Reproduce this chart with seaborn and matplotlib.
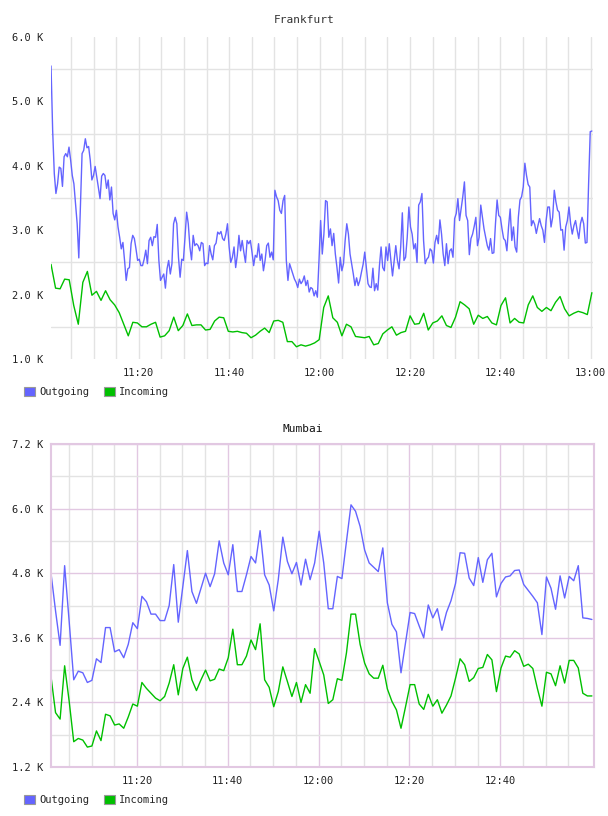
import numpy as np
import pandas as pd
import matplotlib
matplotlib.use("Agg")
import matplotlib.pyplot as plt
import seaborn as sns
from matplotlib.patches import Patch
from matplotlib.ticker import FixedLocator

# ---------------- data (values in thousands) ----------------
series_names = ["Outgoing", "Incoming"]
series_colors = {"Outgoing": "#6464ff", "Incoming": "#00c000"}

# time span of samples, minutes after 11:00
fra_span = (0.58, 120.25)
mum_span = (1.06, 120.2)

fra_outgoing = [
    5.55, 4.55, 3.88, 3.57, 3.72, 3.98, 3.96, 3.68, 4.14, 4.19,
    4.14, 4.29, 4.09, 3.85, 3.72, 3.41, 3.10, 2.57, 3.36, 4.19,
    4.24, 4.42, 4.28, 4.30, 4.09, 3.78, 3.85, 3.99, 3.83, 3.66,
    3.49, 3.84, 3.88, 3.85, 3.65, 3.78, 3.47, 3.67, 3.26, 3.16,
    3.31, 3.05, 2.89, 2.71, 2.81, 2.53, 2.22, 2.40, 2.42, 2.79,
    2.92, 2.87, 2.71, 2.53, 2.55, 2.45, 2.45, 2.55, 2.69, 2.48,
    2.84, 2.89, 2.76, 2.90, 2.89, 3.09, 2.53, 2.22, 2.27, 2.32,
    2.10, 2.40, 2.53, 2.32, 2.48, 3.10, 3.20, 3.10, 2.58, 2.27,
    2.55, 2.53,
    2.89, 3.28, 3.10, 2.74, 2.54, 2.92, 2.76, 2.79, 2.76, 2.68,
    2.81, 2.79, 2.45, 2.49, 2.48, 2.76, 2.63, 2.54, 2.76, 2.80,
    2.97, 2.94, 2.98, 2.87, 2.84, 2.94, 3.10, 2.74, 2.50, 2.58,
    2.74, 2.42, 2.61, 2.92, 2.68, 2.84, 2.66, 2.50, 2.84, 2.79,
    2.84, 2.66, 2.45, 2.61, 2.58, 2.79, 2.53, 2.63, 2.37, 2.53,
    2.76, 2.80, 2.58, 2.66, 2.54, 3.62, 3.52, 3.46, 3.31, 3.26,
    3.46, 3.54, 2.53, 2.22, 2.48, 2.40, 2.32, 2.24, 2.19, 2.11,
    2.24, 2.17, 2.21, 2.29, 2.14, 2.22, 2.04, 2.11, 2.09, 1.98,
    2.06,
    1.96, 2.53, 3.15, 2.63, 2.94, 3.46, 3.44, 2.89,
    3.02, 2.76, 2.95, 2.63, 2.42, 2.18, 2.58, 2.37, 2.48, 2.84,
    3.10, 2.94, 2.63, 2.48, 2.32, 2.14, 2.26, 2.14, 2.22,
    2.35, 2.47, 2.66, 2.42, 2.17, 2.12, 2.11, 2.41, 2.06, 2.17,
    2.07, 2.45, 2.74, 2.42, 2.37, 2.74, 2.53, 2.79, 2.53,
    2.29, 2.53, 2.76, 2.53, 2.40, 2.74, 3.27, 2.53, 2.58, 2.89,
    3.36, 3.05, 2.94, 2.71, 2.79, 2.50, 3.39, 3.44, 3.57,
    2.84, 2.48, 2.55, 2.58, 2.71, 2.68, 2.49, 2.81, 2.92,
    2.79, 3.16, 2.94, 2.63, 2.45, 2.79, 2.48, 2.68, 2.71, 2.58,
    3.18, 3.26, 3.49, 3.15, 3.33, 3.52, 3.75, 3.23, 3.15,
    2.62, 2.87, 2.94, 3.06, 3.20, 2.76, 2.89, 3.39, 3.20,
    3.02, 2.89, 2.76, 2.69, 2.87, 2.64, 2.65, 3.10, 3.47,
    3.23, 3.20, 3.02, 2.87, 2.84, 2.68, 3.05, 3.33, 2.84, 3.05,
    2.74, 2.66, 3.20, 3.47, 3.52, 3.67, 4.04, 3.85, 3.71, 3.67,
    3.07, 3.15, 3.09, 2.95, 3.07, 3.18, 3.07, 3.00, 2.81,
    3.15, 3.36, 3.36, 3.05, 3.20, 3.62, 3.44, 3.31, 3.28, 3.00,
    3.01, 2.69, 3.05, 3.15, 3.36, 3.10, 2.94, 3.07, 3.15, 3.00,
    2.87, 3.10, 3.20, 3.10, 2.80, 2.81, 3.72, 4.53, 4.54,
]

fra_incoming = [
    2.47, 2.10, 2.09, 2.24, 2.23, 1.83, 1.54, 2.19, 2.36, 1.99,
    2.05, 1.91, 2.06, 1.92, 1.84, 1.72, 1.54, 1.36, 1.57, 1.56,
    1.50, 1.50, 1.54, 1.57, 1.34, 1.36, 1.44, 1.65, 1.44, 1.52,
    1.70, 1.52, 1.53, 1.53, 1.45, 1.46, 1.59, 1.65, 1.64, 1.43,
    1.42, 1.43, 1.41, 1.40, 1.33, 1.37, 1.43, 1.48, 1.41, 1.59,
    1.60, 1.57, 1.27, 1.27, 1.19, 1.22, 1.20, 1.22, 1.25, 1.30,
    1.80, 1.98, 1.64, 1.57, 1.36, 1.54, 1.50, 1.35, 1.34, 1.33,
    1.35, 1.22, 1.24, 1.39, 1.45, 1.50, 1.37, 1.41, 1.43, 1.67,
    1.54, 1.55, 1.71, 1.45, 1.56, 1.59, 1.67, 1.52, 1.49, 1.65,
    1.89, 1.84, 1.78, 1.54, 1.68, 1.63, 1.66, 1.56, 1.53, 1.83,
    1.95, 1.56, 1.63, 1.57, 1.56, 1.84, 1.98, 1.80, 1.74, 1.80,
    1.75, 1.88, 1.97, 1.78, 1.67, 1.71, 1.74, 1.72, 1.69, 2.03,
]

mum_outgoing = [
    4.80, 4.10, 3.46, 4.94, 3.90, 2.82, 2.98, 2.95, 2.77, 2.81,
    3.21, 3.14, 3.79, 3.79, 3.34, 3.38, 3.23, 3.48, 3.88, 3.77,
    4.37, 4.27, 4.04, 4.04, 3.92, 3.92, 4.20, 4.96, 3.89, 4.55,
    5.22, 4.46, 4.24, 4.52, 4.80, 4.55, 4.79, 5.40, 4.99, 4.77,
    5.33, 4.46, 4.46, 4.77, 5.11, 4.99, 5.59, 4.77, 4.58, 4.10,
    4.68, 5.47, 5.02, 4.79, 5.00, 4.58, 5.06, 4.68, 4.99, 5.58,
    4.99, 4.14, 4.14, 4.74, 4.70, 5.39, 6.07, 5.95, 5.67, 5.23,
    4.99, 4.91, 4.83, 5.27, 4.25, 3.85, 3.71, 2.95, 3.51, 4.07,
    4.05, 3.82, 3.60, 4.21, 3.97, 4.14, 3.74, 4.07, 4.29, 4.61,
    5.18, 5.17, 4.71, 4.57, 5.09, 4.63, 5.05, 5.17, 4.36, 4.61,
    4.73, 4.75, 4.85, 4.86, 4.59, 4.48, 4.37, 4.25, 3.66, 4.73,
    4.52, 4.13, 4.75, 4.34, 4.74, 4.66, 4.94, 3.97, 3.96, 3.94,
]

mum_incoming = [
    2.88, 2.21, 2.09, 3.08, 2.42, 1.67, 1.73, 1.70, 1.57, 1.59,
    1.87, 1.69, 2.18, 2.15, 1.98, 2.00, 1.92, 2.13, 2.37, 2.33,
    2.77, 2.66, 2.57, 2.48, 2.43, 2.51, 2.76, 3.10, 2.54, 3.03,
    3.24, 2.82, 2.62, 2.82, 3.00, 2.80, 2.83, 3.02, 2.99, 3.23,
    3.76, 3.10, 3.10, 3.26, 3.56, 3.38, 3.86, 2.82, 2.68, 2.32,
    2.60, 3.06, 2.79, 2.51, 2.77, 2.40, 2.73, 2.57, 3.40, 3.16,
    2.91, 2.38, 2.45, 2.84, 2.81, 3.32, 4.04, 4.04, 3.48, 3.13,
    2.93, 2.85, 2.85, 3.09, 2.65, 2.42, 2.26, 1.92, 2.32, 2.73,
    2.73, 2.37, 2.27, 2.55, 2.33, 2.45, 2.20, 2.35, 2.52, 2.85,
    3.21, 3.10, 2.79, 2.86, 3.03, 3.05, 3.29, 3.19, 2.60, 3.04,
    3.26, 3.24, 3.36, 3.30, 3.07, 3.11, 3.03, 2.66, 2.33, 2.96,
    2.93, 2.71, 3.08, 2.76, 3.18, 3.18, 3.04, 2.57, 2.52, 2.52,
]

xtick_minutes = [20, 40, 60, 80, 100, 120]
xtick_labels = ["11:20", "11:40", "12:00", "12:20", "12:40", "13:00"]
fra_yticks = [1.0, 2.0, 3.0, 4.0, 5.0, 6.0]
mum_yticks = [1.2, 2.4, 3.6, 4.8, 6.0, 7.2]


def long_frame(span, outgoing, incoming):
    parts = []
    for name, vals in zip(series_names, [outgoing, incoming]):
        parts.append(pd.DataFrame({
            "t": np.linspace(span[0], span[1], len(vals)),
            "v": vals,
            "series": name,
        }))
    return pd.concat(parts, ignore_index=True)


sns.set_style("white")
plt.rcParams["font.family"] = ["DejaVu Sans Mono", "DejaVu Sans"]

W, H = 608, 816
fig = plt.figure(figsize=(W / 100, H / 100), dpi=100)


def fx(px):
    return px / W


def fy(py):
    return 1 - py / H


ax1 = fig.add_axes([fx(51), fy(359), fx(593) - fx(51), fy(37) - fy(359)])
ax2 = fig.add_axes([fx(51), fy(767), fx(594) - fx(51), fy(444) - fy(767)])

grey = "#e3e3e3"
pink = "#e2c8e2"
tick_color = "#222222"
fsize = 7.5

for ax, span, out, inc in [(ax1, fra_span, fra_outgoing, fra_incoming),
                           (ax2, mum_span, mum_outgoing, mum_incoming)]:
    df = long_frame(span, out, inc)
    sns.lineplot(data=df, x="t", y="v", hue="series", hue_order=series_names,
                 palette=series_colors, legend=False, ax=ax, linewidth=1.0,
                 estimator=None, sort=False)
    ax.set_xlabel("")
    ax.set_ylabel("")
    ax.set_axisbelow(True)
    ax.tick_params(which="both", length=0, labelsize=fsize, colors=tick_color)
    ax.tick_params(axis="y", pad=5.5)
    ax.tick_params(axis="x", pad=6.5)

# --- Frankfurt ---
ax1.set_xlim(0.575, 120.5)
ax1.set_ylim(fra_yticks[0], fra_yticks[-1])
ax1.set_xticks(xtick_minutes)
ax1.set_xticklabels(xtick_labels)
ax1.xaxis.set_minor_locator(FixedLocator([m for m in range(5, 121, 5) if m % 20]))
ax1.set_yticks(fra_yticks)
ax1.set_yticklabels([f"{v:.1f} K" for v in fra_yticks])
ax1.yaxis.set_minor_locator(FixedLocator([v + 0.5 for v in fra_yticks[:-1]]))
ax1.grid(which="minor", color=grey, linewidth=1.0)
ax1.grid(which="major", axis="x", color=grey, linewidth=1.0)
ax1.grid(which="major", axis="y", visible=False)
for s in ax1.spines.values():
    s.set_visible(False)

# --- Mumbai ---
ax2.set_xlim(1.06, 120.66)
ax2.set_ylim(mum_yticks[0], mum_yticks[-1])
ax2.set_xticks(xtick_minutes[:-1])
ax2.set_xticklabels(xtick_labels[:-1])
ax2.xaxis.set_minor_locator(FixedLocator([m for m in range(5, 116, 5) if m % 20]))
ax2.set_yticks(mum_yticks)
ax2.set_yticklabels([f"{v:.1f} K" for v in mum_yticks])
ax2.yaxis.set_minor_locator(FixedLocator([v + 0.6 for v in mum_yticks[:-1]]))
ax2.grid(which="minor", color=grey, linewidth=1.0)
ax2.grid(which="major", color=pink, linewidth=1.0)
for s in ax2.spines.values():
    s.set_visible(True)
    s.set_color(pink)
    s.set_linewidth(1.5)

# titles
fig.text(fx(304), fy(20), "Frankfurt", ha="center", va="center",
         fontsize=8, color="#333333")
fig.text(fx(303), fy(429), "Mumbai", ha="center", va="center",
         fontsize=8, color="#111111")

# legends
handles = [Patch(facecolor=series_colors[n], edgecolor="#999999", linewidth=0.8)
           for n in series_names]
for ax, ypx in [(ax1, 392), (ax2, 800)]:
    ax.legend(handles=handles, labels=series_names, loc="center left",
              bbox_to_anchor=(fx(24), fy(ypx)), bbox_transform=fig.transFigure,
              ncol=2, frameon=False, handlelength=1.05, handleheight=1.05,
              handletextpad=0.4, columnspacing=1.45, borderaxespad=0,
              borderpad=0, prop={"size": fsize})

fig.savefig("out.png", dpi=100)
